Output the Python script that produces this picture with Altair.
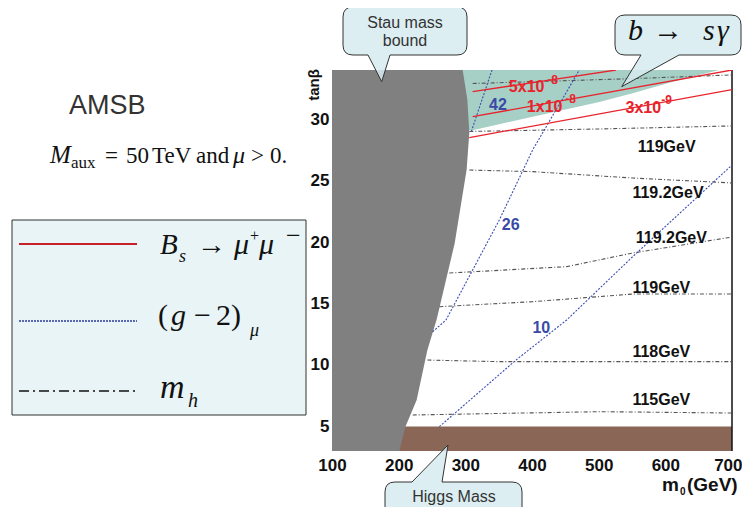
import altair as alt
import pandas as pd

# ---------------- data ----------------
x_ticks = [100, 200, 300, 400, 500, 600, 700]
y_ticks = [5, 10, 15, 20, 25, 30]
x_domain = [100, 700]
y_domain = [3, 34]

# stau mass bound (grey, excluded): right edge m0 vs tan(beta)
stau_tanb = [3.0, 4.95, 7.15, 11.2, 13.7, 15.3, 19.9, 25.9, 26.7, 28.9, 31.6, 34.0]
stau_m0 = [201, 210, 227, 243, 257, 264, 284, 302, 303, 306, 303, 296]

# b -> s gamma excluded band (teal): lower edge
bsg_m0 = [290, 311, 401, 501, 551, 602, 651, 681, 700]
bsg_tanb = [29.1, 29.1, 30.2, 31.4, 32.1, 32.9, 33.6, 34.0, 34.0]

# Higgs mass excluded band (brown)
higgs_m0 = [200, 700]
higgs_tanb = [3.0, 5.0]

# Bs -> mu+ mu- contours (red)
bs_5e8_m0, bs_5e8_tanb = [311, 526], [32.24, 34.0]
bs_1e8_m0, bs_1e8_tanb = [311, 700], [30.2, 34.0]
bs_3e9_m0, bs_3e9_tanb = [306, 700], [28.5, 32.4]
bs_label = ["5x10", "1x10", "3x10"]
bs_label_exp = ["-8", "-8", "-9"]
bs_label_m0 = [392, 419, 567]
bs_label_tanb = [32.62, 31.01, 30.88]
bs_exp_m0 = [423, 450, 594]
bs_exp_tanb = [33.19, 31.62, 31.53]

# (g-2)_mu contours (blue)
g2_42_m0, g2_42_tanb = [309, 340], [29.0, 34.0]
g2_26_m0, g2_26_tanb = [251, 271, 351, 401, 471], [12.7, 13.66, 21.8, 27.5, 34.0]
g2_10_m0, g2_10_tanb = [261, 376, 452, 551, 700], [4.98, 10.4, 13.66, 18.81, 26.27]
g2_label = ["42", "26", "10"]
g2_label_m0 = [349, 368, 414]
g2_label_tanb = [31.15, 21.39, 12.98]

# Higgs mass contours (black dash-dot)
mh_a_m0, mh_a_tanb = [311, 431, 551, 651, 700], [32.9, 33.1, 33.3, 33.5, 33.6]
mh_b_m0, mh_b_tanb = [306, 500, 700], [29.0, 29.2, 29.45]
mh_c_m0, mh_c_tanb = [306, 401, 551, 700], [25.86, 25.73, 25.21, 24.81]
mh_d_m0, mh_d_tanb = [276, 452, 551, 700], [17.48, 18.0, 19.11, 20.41]
mh_e_m0, mh_e_tanb = [261, 401, 551, 700], [14.74, 15.15, 15.77, 15.77]
mh_f_m0, mh_f_tanb = [243, 351, 700], [10.4, 10.27, 10.27]
mh_g_m0, mh_g_tanb = [221, 501, 700], [5.93, 6.2, 6.09]
mh_label = ["119GeV", "119.2GeV", "119.2GeV", "119GeV", "118GeV", "115GeV"]
mh_label_m0 = [602, 604, 609, 594, 594, 594]
mh_label_tanb = [27.76, 23.97, 20.3, 16.24, 11.08, 7.15]

# ---------------- styling / layout ----------------
SANS = "Liberation Sans"
SERIF = "Liberation Serif"
OX, OY = 332, 70          # page position of the plot origin
W, H = 400, 381
SVG_W, SVG_H = 734, 499   # fits inside the 750x515 window with the 8px margin

def curves(d):
    rows = []
    for name, (xs, ys) in d.items():
        for i, (a, b) in enumerate(zip(xs, ys)):
            rows.append({"curve": name, "m0": a, "tanb": b, "o": i})
    return pd.DataFrame(rows)

red_df = curves({"5e-8": (bs_5e8_m0, bs_5e8_tanb), "1e-8": (bs_1e8_m0, bs_1e8_tanb),
                 "3e-9": (bs_3e9_m0, bs_3e9_tanb)})
blue_df = curves({"42": (g2_42_m0, g2_42_tanb), "26": (g2_26_m0, g2_26_tanb),
                  "10": (g2_10_m0, g2_10_tanb)})
black_df = curves({"a": (mh_a_m0, mh_a_tanb), "b": (mh_b_m0, mh_b_tanb), "c": (mh_c_m0, mh_c_tanb),
                   "d": (mh_d_m0, mh_d_tanb), "e": (mh_e_m0, mh_e_tanb), "f": (mh_f_m0, mh_f_tanb),
                   "g": (mh_g_m0, mh_g_tanb)})

xs = alt.Scale(domain=x_domain, nice=False, zero=False)
ys = alt.Scale(domain=y_domain, nice=False, zero=False)
last_x = x_ticks[-1]
xaxis = alt.Axis(values=x_ticks, labelFont=SANS, labelFontSize=17, labelFontWeight="bold",
                 labelColor="#111", ticks=False, domain=False, grid=False, title=None,
                 labelPadding=6, labelFlush=False,
                 labelAlign=alt.ExprRef(f"datum.value == {last_x} ? 'right' : 'center'"),
                 labelOffset=alt.ExprRef(f"datum.value == {last_x} ? 10 : 0"))
yaxis = alt.Axis(values=y_ticks, labelFont=SANS, labelFontSize=17, labelFontWeight="bold",
                 labelColor="#111", ticks=False, domain=False, grid=False, title=None,
                 labelPadding=3, labelFlush=False)
X = lambda f: alt.X(f, type="quantitative", scale=xs, axis=xaxis)
Y = lambda f: alt.Y(f, type="quantitative", scale=ys, axis=yaxis)

bsg_df = pd.DataFrame({"m0": bsg_m0, "tanb": bsg_tanb, "top": [y_domain[1]] * len(bsg_m0)})
teal = alt.Chart(bsg_df).mark_area(color="#a6cfc6", clip=True).encode(
    x=X("m0"), y=Y("tanb"), y2="top")

higgs_df = pd.DataFrame({"m0a": [higgs_m0[0]], "m0b": [higgs_m0[1]],
                         "ta": [higgs_tanb[0]], "tb": [higgs_tanb[1]]})
brown = alt.Chart(higgs_df).mark_rect(color="#8a6657").encode(
    x=X("m0a"), x2="m0b", y=Y("ta"), y2="tb")

stau_df = pd.DataFrame({"m0": stau_m0, "tanb": stau_tanb, "left": [x_domain[0]] * len(stau_m0)})
grey = alt.Chart(stau_df).mark_area(color="#808080", orient="horizontal", clip=True).encode(
    y=Y("tanb"), x=X("m0"), x2="left")

frame = alt.Chart(pd.DataFrame({"k": [0]})).mark_rule(color="#111", strokeWidth=1.5).encode(
    x=alt.value(W), y=alt.value(0), y2=alt.value(H))

red = alt.Chart(red_df).mark_line(color="#e8232b", strokeWidth=1.3, clip=True).encode(
    x=X("m0"), y=Y("tanb"), detail="curve:N", order="o:Q")
blue = alt.Chart(blue_df).mark_line(color="#3c4db0", strokeWidth=1.1, strokeDash=[2, 1.5], clip=True).encode(
    x=X("m0"), y=Y("tanb"), detail="curve:N", order="o:Q")
black = alt.Chart(black_df).mark_line(color="#555", strokeWidth=1.1, strokeDash=[4, 2, 1, 2], clip=True).encode(
    x=X("m0"), y=Y("tanb"), detail="curve:N", order="o:Q")

mh_lab = alt.Chart(pd.DataFrame({"t": mh_label, "m0": mh_label_m0, "tanb": mh_label_tanb})).mark_text(
    font=SANS, fontSize=16, fontWeight="bold", color="#111").encode(x=X("m0"), y=Y("tanb"), text="t:N")
g2_lab = alt.Chart(pd.DataFrame({"t": g2_label, "m0": g2_label_m0, "tanb": g2_label_tanb})).mark_text(
    font=SANS, fontSize=16, fontWeight="bold", color="#3a4aa6").encode(x=X("m0"), y=Y("tanb"), text="t:N")
bs_lab = alt.Chart(pd.DataFrame({"t": bs_label, "m0": bs_label_m0, "tanb": bs_label_tanb})).mark_text(
    font=SANS, fontSize=16, fontWeight="bold", color="#e8232b").encode(x=X("m0"), y=Y("tanb"), text="t:N")
bs_exp = alt.Chart(pd.DataFrame({"t": bs_label_exp, "m0": bs_exp_m0, "tanb": bs_exp_tanb})).mark_text(
    font=SANS, fontSize=12, fontWeight="bold", color="#e8232b", align="left").encode(
    x=X("m0"), y=Y("tanb"), text="t:N")

one = pd.DataFrame({"k": [0]})

def txt(s, px, py, size, font=SANS, weight="normal", style="normal", color="#222",
        align="left", baseline="alphabetic", angle=0):
    return alt.Chart(one).mark_text(text=s, font=font, fontSize=size, fontWeight=weight,
                                    fontStyle=style, color=color, align=align,
                                    baseline=baseline, angle=angle).encode(
        x=alt.value(px - OX), y=alt.value(py - OY))

def shape(path, fill="#d6ebee", stroke="#333"):
    return alt.Chart(one).mark_point(shape=path, size=4, filled=True, fill=fill, fillOpacity=0.85,
                                     stroke=stroke, strokeWidth=1, opacity=1).encode(
        x=alt.value(0), y=alt.value(0))

stau_call = shape("M21,-63 L125,-63 Q135,-63 135,-53 L135,-25 Q135,-15 125,-15 L58,-15 "
                  "L49.7,11.7 L36,-15 L21,-15 Q11,-15 11,-25 L11,-53 Q11,-63 21,-63 Z")
bsg_call = shape("M293,-55 L399,-55 Q409,-55 409,-45 L409,-25 Q409,-15 399,-15 L347,-15 "
                 "L289.7,16.7 L309,-15 L293,-15 Q283,-15 283,-25 L283,-45 Q283,-55 293,-55 Z")
hig_call = shape("M63,412 L80,412 L116,375 L110,412 L180,412 Q190,412 190,422 L190,465 "
                 "Q190,475 180,475 L63,475 Q53,475 53,465 L53,422 Q53,412 63,412 Z")

legend_box = alt.Chart(one).mark_rect(fill="#e8f4f6", stroke="#333", strokeWidth=1).encode(
    x=alt.value(12 - OX), x2=alt.value(306 - OX), y=alt.value(220 - OY), y2=alt.value(415 - OY))
leg_red = alt.Chart(one).mark_rule(color="#c8202a", strokeWidth=2).encode(
    x=alt.value(19 - OX), x2=alt.value(137 - OX), y=alt.value(244 - OY))
leg_blue = alt.Chart(one).mark_rule(color="#2a3a9a", strokeWidth=1.6, strokeDash=[2, 1]).encode(
    x=alt.value(19 - OX), x2=alt.value(137 - OX), y=alt.value(321 - OY))
leg_black = alt.Chart(one).mark_rule(color="#111", strokeWidth=1.6, strokeDash=[10, 4, 2, 4]).encode(
    x=alt.value(19 - OX), x2=alt.value(137 - OX), y=alt.value(391 - OY))

texts = [
    # callouts
    txt("Stau mass", 405, 28, 16, color="#333", align="center"),
    txt("bound", 405, 46, 16, color="#333", align="center"),
    txt("b", 628, 40, 30, font=SERIF, style="italic", color="#111"),
    txt("\u2192", 653, 40, 30, font=SERIF, color="#111"),
    txt("s", 703, 40, 30, font=SERIF, style="italic", color="#111"),
    txt("\u03b3", 717, 40, 30, font=SERIF, style="italic", color="#111"),
    txt("Higgs Mass", 454, 502, 16, color="#333", align="center"),
    # top-left texts
    txt("AMSB", 69, 114, 27, color="#333"),
    txt("M", 50, 163, 25, font=SERIF, style="italic", color="#111"),
    txt("aux", 71, 168, 17, font=SERIF, color="#111"),
    txt("=", 105, 163, 23, font=SERIF, color="#111"),
    txt("50", 126, 163, 23, font=SERIF, color="#111"),
    txt("TeV", 152, 163, 23, font=SERIF, color="#111"),
    txt("and", 196, 163, 23, font=SERIF, color="#111"),
    txt("\u03bc", 233, 163, 24, font=SERIF, style="italic", color="#111"),
    txt(">", 251, 163, 23, font=SERIF, color="#111"),
    txt("0.", 270, 163, 23, font=SERIF, color="#111"),
    # legend texts
    txt("B", 160, 254, 29, font=SERIF, style="italic", color="#111"),
    txt("s", 179, 262, 18, font=SERIF, style="italic", color="#111"),
    txt("\u2192", 197, 254, 29, font=SERIF, color="#111"),
    txt("\u03bc", 234, 254, 30, font=SERIF, style="italic", color="#111"),
    txt("+", 250, 241, 16, font=SERIF, color="#111"),
    txt("\u03bc", 259, 254, 30, font=SERIF, style="italic", color="#111"),
    txt("\u2212", 286, 244, 26, font=SERIF, color="#111"),
    txt("(", 158, 325, 30, font=SERIF, color="#111"),
    txt("g", 171, 325, 30, font=SERIF, style="italic", color="#111"),
    txt("\u2212", 194, 325, 30, font=SERIF, color="#111"),
    txt("2)", 216, 325, 30, font=SERIF, color="#111"),
    txt("\u03bc", 250, 336, 18, font=SERIF, style="italic", color="#111"),
    txt("m", 160, 398, 34, font=SERIF, style="italic", color="#111"),
    txt("h", 188, 407, 20, font=SERIF, style="italic", color="#111"),
    # axis titles
    txt("tan\u03b2", 314, 85, 15, weight="bold", color="#111", align="center",
        baseline="middle", angle=270),
    txt("m", 662, 491, 19, weight="bold", color="#111"),
    txt("0", 680, 495, 10, weight="bold", color="#111"),
    txt("(GeV)", 687, 491, 19, weight="bold", color="#111"),
]

chart = alt.layer(
    teal, brown, grey, frame, black, blue, red,
    mh_lab, g2_lab, bs_lab, bs_exp,
    legend_box, leg_red, leg_blue, leg_black,
    stau_call, bsg_call, hig_call,
    *texts,
).properties(
    width=W, height=H,
    padding={"left": OX - 8, "top": OY - 8, "right": SVG_W - (OX - 8) - W,
             "bottom": SVG_H - (OY - 8) - H},
    autosize="none",
).configure_view(stroke=None)

chart.save("out.html", embed_options={"renderer": "svg", "actions": False})
